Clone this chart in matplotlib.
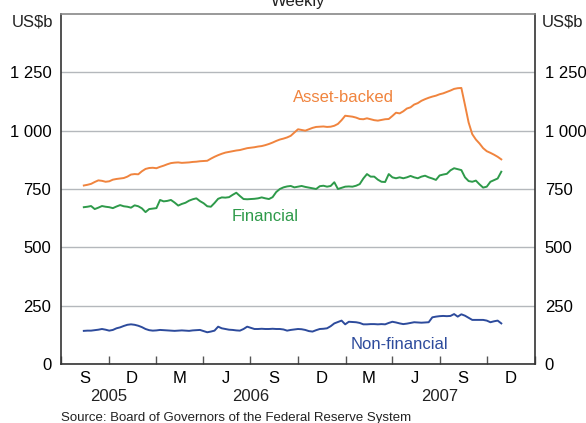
import matplotlib
matplotlib.use('Agg')
import matplotlib.pyplot as plt
import matplotlib.dates as mdates
import matplotlib.transforms as mtransforms
import pandas as pd

plt.rcParams['font.family'] = ['Liberation Sans', 'DejaVu Sans']

# weekly dates, Sep 2005 - Nov 2007
dates = pd.date_range('2005-09-14', periods=116, freq='7D')

asset_backed = [
    765, 768, 772, 780, 787, 785, 781, 783, 790, 793,
    795, 797, 803, 812, 814, 813, 826, 836, 840, 841,
    839, 845, 850, 856, 861, 863, 864, 862, 863, 864,
    866, 867, 869, 870, 871, 880, 888, 895, 901, 906,
    909, 912, 915, 917, 921, 925, 927, 929, 932, 934,
    938, 943, 949, 956, 962, 966, 971, 978, 992, 1006,
    1003, 1000, 1006, 1012, 1016, 1017, 1018, 1016, 1017, 1021,
    1029, 1045, 1064, 1062, 1060, 1056, 1050, 1049, 1053, 1049,
    1045, 1043, 1046, 1049, 1050, 1063, 1077, 1074, 1083, 1095,
    1100, 1112, 1118, 1128, 1135, 1141, 1146, 1150, 1156, 1160,
    1166, 1172, 1179, 1182, 1183, 1110, 1035, 985, 962, 945,
    925, 912, 905, 897, 888, 877,
]

financial = [
    672, 674, 677, 664, 670, 677, 674, 672, 668, 675,
    681, 676, 674, 670, 680, 676, 667, 651, 664, 666,
    668, 703, 697, 699, 703, 692, 679, 686, 691, 700,
    706, 710, 698, 689, 676, 674, 690, 708, 714, 713,
    715, 725, 734, 720, 707, 706, 707, 708, 710, 714,
    710, 707, 715, 737, 750, 757, 761, 763, 757, 760,
    763, 759, 756, 753, 750, 762, 764, 760, 763, 779,
    750, 755, 760, 761, 760, 764, 771, 795, 814, 803,
    803, 790, 781, 780, 814, 800, 796, 800, 796, 800,
    806, 800, 796, 803, 807, 800, 795, 789, 808, 812,
    815, 830, 839, 835, 831, 800, 784, 781, 786, 770,
    756, 760, 781, 788, 795, 824,
]

non_financial = [
    142, 143, 143, 145, 147, 150, 147, 143, 146, 153,
    157, 163, 168, 170, 168, 164, 158, 150, 145, 143,
    144, 146, 145, 144, 143, 142, 143, 144, 143, 142,
    144, 145, 146, 141, 136, 139, 143, 160, 153, 150,
    147, 146, 144, 143, 150, 160, 155, 150, 150, 151,
    150, 150, 151, 150, 150, 148, 143, 146, 148, 150,
    149, 146, 141, 139, 145, 150, 151, 153, 162, 174,
    180, 186, 170, 181, 180, 179, 176, 170, 170, 171,
    171, 170, 171, 170, 176, 181, 178, 174, 171, 173,
    176, 179, 178, 177, 178, 179, 200, 203, 205, 206,
    205, 206, 214, 203, 213, 207, 198, 189, 189, 189,
    189, 186, 179, 183, 186, 174,
]

y_ticks = [0, 250, 500, 750, 1000, 1250]
y_labels = ['0', '250', '500', '750', '1 000', '1 250']
month_labels = ['S', 'D', 'M', 'J', 'S', 'D', 'M', 'J', 'S', 'D']
years = ['2005', '2006', '2007']
year_pos = ['2005-11-01', '2006-08-01', '2007-08-01']

orange = '#F0843E'
green = '#2E9A4A'
blue = '#2D4B9C'

fig = plt.figure(figsize=(5.86, 4.23), dpi=100)
ax = fig.add_axes([61 / 586, 59 / 423, 474 / 586, 350 / 423])

ax.plot(dates, asset_backed, color=orange, linewidth=1.4)
ax.plot(dates, financial, color=green, linewidth=1.4)
ax.plot(dates, non_financial, color=blue, linewidth=1.4)

ax.set_ylim(0, 1500)
ax.set_xlim(pd.Timestamp('2005-08-01'), pd.Timestamp('2008-02-01'))

# grid
ax.set_yticks(y_ticks)
ax.set_yticklabels(y_labels, fontsize=12)
ax.grid(axis='y', color='#b4b8bc', linewidth=1)
ax.set_axisbelow(True)
ax.tick_params(axis='y', length=0, pad=7, labelright=True, right=False)

# quarter ticks, month labels in between
major = pd.date_range('2005-08-01', '2008-02-01', freq='3MS')
minor = [d + pd.Timedelta(days=45) for d in major[:-1]]
ax.set_xticks(major)
ax.set_xticklabels([''] * len(major))
ax.set_xticks(minor, minor=True)
ax.set_xticklabels(month_labels, minor=True, fontsize=12)
ax.tick_params(axis='x', which='major', direction='in', length=6, color='#555555', width=1)
ax.tick_params(axis='x', which='minor', length=0, pad=5)

trans = mtransforms.blended_transform_factory(ax.transData, ax.transAxes)
for yr, pos in zip(years, year_pos):
    ax.text(mdates.date2num(pd.Timestamp(pos)), -0.092, yr, transform=trans,
            ha='center', va='center', fontsize=12, color='#222222')

for sp in ax.spines.values():
    sp.set_color('#333333')
    sp.set_linewidth(1.2)
ax.spines['top'].set_color('#888888')

ax.text(-0.016, 1.0, 'US$b', transform=ax.transAxes, ha='right', va='top', fontsize=12, color='#222222')
ax.text(1.014, 1.0, 'US$b', transform=ax.transAxes, ha='left', va='top', fontsize=12, color='#222222')

# series labels
ax.text(0.595, 0.76, 'Asset-backed', transform=ax.transAxes, ha='center', va='center', fontsize=12, color=orange)
ax.text(0.43, 0.422, 'Financial', transform=ax.transAxes, ha='center', va='center', fontsize=12, color=green)
ax.text(0.715, 0.055, 'Non-financial', transform=ax.transAxes, ha='center', va='center', fontsize=12, color=blue)

fig.text(298 / 586, 1 - 6 / 423, 'Weekly', ha='center', va='baseline', fontsize=12, color='#222222')
fig.text(61 / 586, 1 - 418 / 423, 'Source: Board of Governors of the Federal Reserve System',
         ha='left', va='center', fontsize=9.5, color='#222222')

plt.savefig('out.png', dpi=100)
